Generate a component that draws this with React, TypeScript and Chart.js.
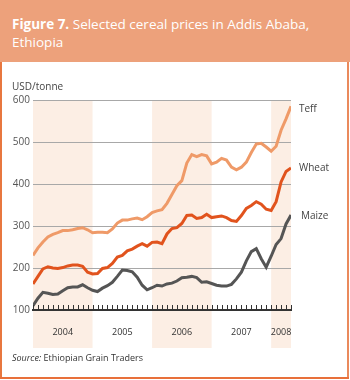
import React, { useEffect, useRef } from "react";
import { Chart, registerables } from "chart.js";

Chart.register(...registerables);

// Monthly prices, Jan 2004 .. May 2008 (index = months since Jan 2004)
const teff = [230, 248, 262, 274, 280, 284, 289, 289, 291, 294, 296, 291, 284, 285, 285, 284, 293, 307, 314, 314, 317, 319, 315, 322, 332, 336, 339, 354, 375, 396, 408, 450, 470, 465, 470, 467, 448, 452, 461, 457, 440, 434, 440, 452, 475, 495, 497, 488, 478, 490, 528, 555, 585];
const wheat = [162, 180, 198, 203, 200, 199, 201, 205, 207, 207, 204, 190, 186, 187, 199, 201, 211, 226, 230, 241, 245, 252, 258, 252, 261, 262, 258, 281, 294, 296, 306, 325, 326, 318, 320, 328, 320, 322, 324, 320, 313, 311, 325, 342, 349, 358, 352, 340, 337, 358, 405, 430, 438];
const maize = [110, 128, 142, 140, 137, 138, 146, 153, 155, 155, 160, 153, 147, 144, 152, 158, 166, 180, 195, 194, 191, 178, 159, 148, 153, 159, 157, 162, 164, 169, 177, 178, 180, 177, 166, 167, 163, 159, 157, 157, 161, 174, 190, 217, 239, 246, 222, 202, 228, 256, 270, 305, 326];

const yearLabels = ["2004", "2005", "2006", "2007", "2008"];
const yearLabelPos = [6, 18, 30, 42, 50];
const shadedStart = [0, 24, 48];
const shadedEnd = [12, 36, 52];
const yTicks = [100, 200, 300, 400, 500, 600];

const bandsPlugin = {
  id: "bands",
  beforeDraw(chart: any) {
    const { ctx, chartArea, scales } = chart;
    const x = scales.x;
    ctx.save();
    ctx.fillStyle = "#FCEEE4";
    for (let i = 0; i < shadedStart.length; i++) {
      const x0 = x.getPixelForValue(shadedStart[i]);
      const x1 = x.getPixelForValue(shadedEnd[i]);
      ctx.fillRect(x0, chartArea.top, x1 - x0, chartArea.bottom + 38 - chartArea.top);
    }
    ctx.restore();
  },
  afterDraw(chart: any) {
    const { ctx, chartArea, scales } = chart;
    const x = scales.x;
    ctx.save();
    ctx.strokeStyle = "#333";
    ctx.lineWidth = 1;
    for (let i = 0; i < teff.length; i++) {
      const px = Math.round(x.getPixelForValue(i)) + 0.5;
      ctx.beginPath();
      ctx.moveTo(px, chartArea.bottom - 5);
      ctx.lineTo(px, chartArea.bottom);
      ctx.stroke();
    }
    ctx.restore();
  },
};

export default function App() {
  const ref = useRef<HTMLCanvasElement>(null);
  useEffect(() => {
    const idx = teff.map((_, i) => i);
    const mk = (d: number[]) => d.map((v, i) => ({ x: idx[i], y: v }));
    const chart = new Chart(ref.current!, {
      type: "line",
      data: {
        datasets: [
          { label: "Teff", data: mk(teff), borderColor: "#EF9A68", borderWidth: 3, pointRadius: 0, tension: 0 },
          { label: "Wheat", data: mk(wheat), borderColor: "#E1531D", borderWidth: 3, pointRadius: 0, tension: 0 },
          { label: "Maize", data: mk(maize), borderColor: "#555555", borderWidth: 3, pointRadius: 0, tension: 0 },
        ],
      },
      options: {
        animation: false,
        responsive: false,
        maintainAspectRatio: false,
        layout: { padding: { left: 0, right: 59, top: 100, bottom: 0 } },
        plugins: { legend: { display: false }, tooltip: { enabled: false } },
        scales: {
          x: {
            type: "linear",
            min: 0,
            max: teff.length - 1,
            afterFit: (s: any) => { s.height = 70; },
            afterBuildTicks: (s: any) => { s.ticks = yearLabelPos.map((v) => ({ value: v })); },
            ticks: {
              autoSkip: false,
              maxRotation: 0,
              padding: 17,
              color: "#333",
              font: { family: "'Open Sans', 'Noto Sans', sans-serif", size: 9 },
              callback: (v: any) => {
                const k = yearLabelPos.indexOf(Number(v));
                return k >= 0 ? yearLabels[k] : "";
              },
            },
            grid: { display: true, drawOnChartArea: false, drawTicks: false, tickLength: 0 },
            border: { display: true, color: "#333", width: 2 },
          },
          y: {
            min: 100,
            max: 600,
            afterFit: (s: any) => { s.width = 33; },
            afterBuildTicks: (s: any) => { s.ticks = yTicks.map((v) => ({ value: v })); },
            ticks: {
              padding: 3,
              color: "#555",
              font: { family: "'Open Sans', 'Noto Sans', sans-serif", size: 10 },
            },
            grid: {
              drawTicks: false,
              color: (c: any) => (c.tick && c.tick.value === 100 ? "rgba(0,0,0,0)" : "#A8A8A8"),
              lineWidth: 1,
            },
            border: { display: false },
          },
        },
      },
      plugins: [bandsPlugin],
    });
    return () => chart.destroy();
  }, []);

  const font = "'Open Sans', 'Noto Sans', sans-serif";
  const label = (text: string, left: number, top: number) => (
    <div style={{ position: "absolute", left, top, fontSize: 10, color: "#444", fontFamily: font, lineHeight: "12px" }}>{text}</div>
  );

  return (
    <div style={{ position: "absolute", left: 0, top: 0, width: 350, height: 380, background: "#fff", overflow: "hidden", fontFamily: font }}>
      <div style={{ position: "absolute", left: 0, top: 0, width: 350, height: 62, background: "#EDA17B" }}>
        <div style={{ position: "absolute", left: 12, top: 15, color: "#fff", fontSize: 13.5, lineHeight: "18px", whiteSpace: "nowrap" }}>
          <b>Figure 7.</b> Selected cereal prices in Addis Ababa,<br />Ethiopia
        </div>
      </div>
      <div style={{ position: "absolute", left: 0, top: 62, width: 2, height: 317, background: "#E8773F" }} />
      <div style={{ position: "absolute", left: 347, top: 62, width: 2, height: 317, background: "#EA8A5C" }} />
      <div style={{ position: "absolute", left: 0, top: 377, width: 349, height: 2, background: "#E8703A" }} />
      <canvas ref={ref} width={350} height={380} style={{ position: "absolute", left: 0, top: 0, width: 350, height: 380 }} />
      {label("USD/tonne", 12, 80)}
      {label("Teff", 299, 102)}
      {label("Wheat", 299, 161)}
      {label("Maize", 301, 209)}
      <div style={{ position: "absolute", left: 12, top: 352, fontSize: 9, color: "#333", fontFamily: font, lineHeight: "12px" }}>
        <i>Source:</i> Ethiopian Grain Traders
      </div>
    </div>
  );
}
